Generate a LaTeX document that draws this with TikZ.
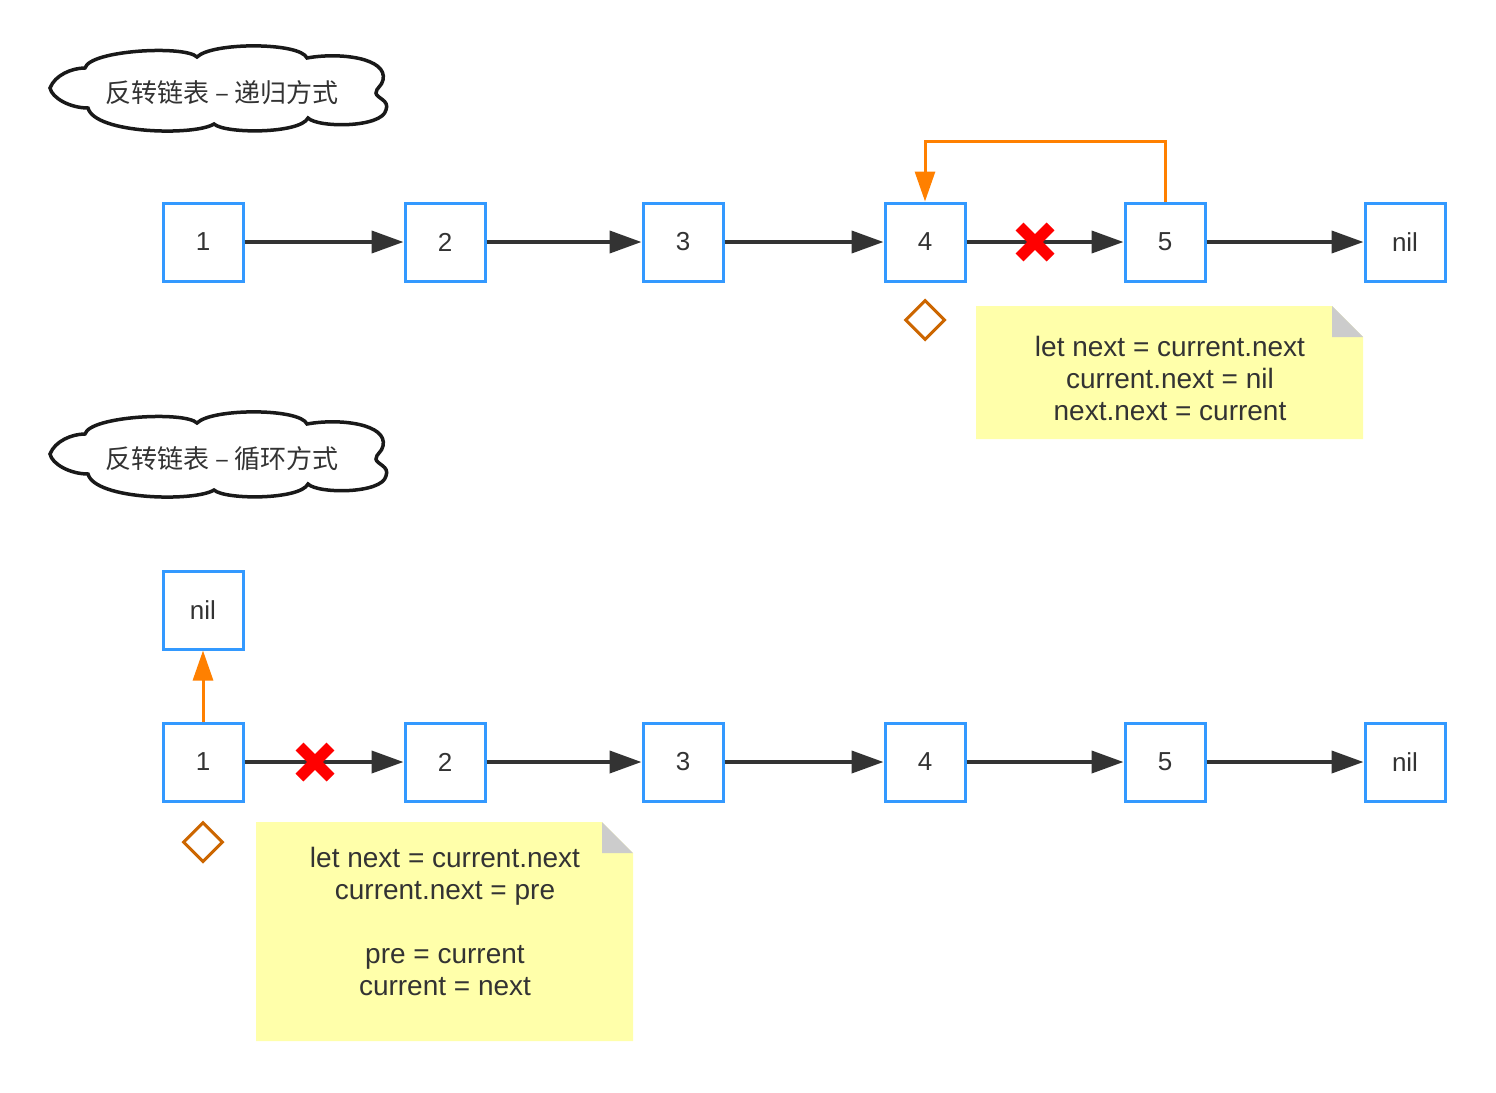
\documentclass[tikz,border=0pt]{standalone}
\usepackage{fontspec}
\setmainfont{Liberation Sans}
\newfontfamily\cjk{Noto Sans CJK SC}
\usetikzlibrary{arrows.meta,shapes.geometric}

\definecolor{boxblue}{HTML}{3399FF}
\definecolor{linkgray}{HTML}{333333}
\definecolor{backorange}{HTML}{FF8000}
\definecolor{markbrown}{HTML}{CC6600}
\definecolor{noteyellow}{HTML}{FFFFAA}
\definecolor{foldgray}{HTML}{CCCCCC}

\tikzset{
    listnode/.style={draw=boxblue, line width=3pt, minimum width=80pt, minimum height=78pt, inner sep=0pt, text=linkgray, font=\fontsize{26}{32}\selectfont},
    link/.style={draw=linkgray, line width=4pt, -{Triangle[length=32pt,width=22pt]}},
    backlink/.style={draw=backorange, line width=3pt, -{Triangle[length=30pt,width=20pt]}},
    cutmark/.style={draw=red, line width=11pt},
    pointer/.style={diamond, draw=markbrown, line width=3pt, minimum width=40pt, minimum height=40pt, inner sep=0pt},
    titletext/.style={text=linkgray, font=\cjk\fontsize{26}{32}\selectfont},
    notetext/.style={align=center, text=linkgray, font=\fontsize{28}{32}\selectfont},
    titlecloud/.pic={
        \draw[draw=black!90, fill=white, line width=3.5pt] (-169,-2)
            .. controls (-164,-15) and (-147,-22) .. (-134,-22)
            .. controls (-129,-40) and (-34,-45) .. (-22,-33)
            .. controls (-7,-48) and (81,-48) .. (88,-32)
            .. controls (121,-38) and (169,-32) .. (164,-10)
            .. controls (163,-4) and (157,-2) .. (157,3)
            .. controls (157,8) and (171,10) .. (167,20)
            .. controls (163,38) and (99,38) .. (89,28)
            .. controls (81,44) and (6,44) .. (-5,34)
            .. controls (-24,46) and (-124,44) .. (-131,18)
            .. controls (-149,18) and (-167,8) .. (-169,-2) -- cycle;
    }
}

\begin{document}
\begin{tikzpicture}[x=1pt, y=-1pt]
    \useasboundingbox (0,0) rectangle (1496,1092);

    % recursive version
    \pic at (219,90) {titlecloud};
    \node[titletext] (title1) at (222,93) {反转链表 – 递归方式};
    \foreach \x/\name/\lbl in {203/a1/1, 445/a2/2, 683/a3/3, 925/a4/4, 1165/a5/5, 1405/a6/nil}
        \node[listnode] (\name) at (\x,242) {\lbl};
    \foreach \from/\to in {a1/a2, a2/a3, a3/a4, a4/a5, a5/a6}
        \draw[link] (\from) -- (\to);
    \draw[backlink] (a5.north) -- ++(0,-60) -| (a4.north);
    \coordinate (x1) at (1035,242);
    \draw[cutmark] (x1) +(-15.5,-15.5) -- +(15.5,15.5) (x1) +(-15.5,15.5) -- +(15.5,-15.5);
    \node[pointer] (ptr1) at (925,320) {};
    \fill[noteyellow] (976,306) -- (1332,306) -- (1363,337) -- (1363,439) -- (976,439) -- cycle;
    \fill[foldgray] (1332,306) -- (1363,337) -- (1332,337) -- cycle;
    \node[notetext] (note1) at (1170,378) {let next = current.next\\current.next = nil\\next.next = current};

    % iterative version
    \pic at (219,456) {titlecloud};
    \node[titletext] (title2) at (222,459) {反转链表 – 循环方式};
    \foreach \x/\name/\lbl in {203/b1/1, 445/b2/2, 683/b3/3, 925/b4/4, 1165/b5/5, 1405/b6/nil}
        \node[listnode] (\name) at (\x,762) {\lbl};
    \node[listnode] (b0) at (203,610) {nil};
    \foreach \from/\to in {b1/b2, b2/b3, b3/b4, b4/b5, b5/b6}
        \draw[link] (\from) -- (\to);
    \draw[backlink] (b1) -- (b0);
    \coordinate (x2) at (315,762);
    \draw[cutmark] (x2) +(-15.5,-15.5) -- +(15.5,15.5) (x2) +(-15.5,15.5) -- +(15.5,-15.5);
    \node[pointer] (ptr2) at (203,842) {};
    \fill[noteyellow] (256,822) -- (602,822) -- (633,853) -- (633,1041) -- (256,1041) -- cycle;
    \fill[foldgray] (602,822) -- (633,853) -- (602,853) -- cycle;
    \node[notetext] (note2) at (445,921) {let next = current.next\\current.next = pre\\[32pt]pre = current\\current = next};
\end{tikzpicture}
\end{document}
